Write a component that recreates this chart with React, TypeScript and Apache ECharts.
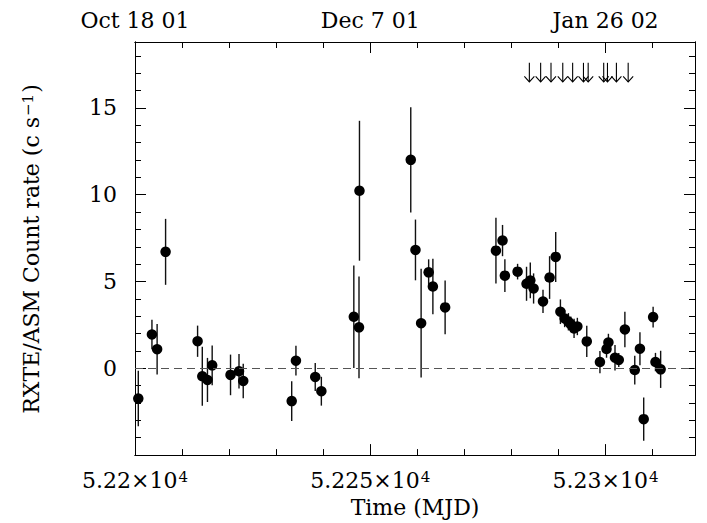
import React, { useEffect, useRef } from "react";
import * as echarts from "echarts";

// ---- data ----
const MJD = [
  52200.7, 52203.6, 52204.7, 52206.5, 52213.3, 52214.3, 52215.4, 52216.4, 52220.3, 52222.1,
  52223.0, 52233.3, 52234.2, 52238.3, 52239.6, 52246.5, 52247.6, 52247.7, 52258.6, 52259.6,
  52260.8, 52262.4, 52263.3, 52265.9, 52276.7, 52278.1, 52278.6, 52281.3, 52283.2, 52284.0,
  52284.7, 52286.7, 52288.1, 52289.4, 52290.4, 52291.3, 52292.1, 52292.6, 52293.3, 52294.0,
  52296.0, 52298.8, 52300.2, 52300.6, 52302.0, 52302.8, 52304.1, 52306.2, 52307.3, 52308.1,
  52310.1, 52310.6, 52311.7,
];
const RATE = [
  -1.74, 1.95, 1.1, 6.71, 1.56, -0.46, -0.67, 0.17, -0.38, -0.17,
  -0.73, -1.89, 0.44, -0.5, -1.32, 2.97, 2.36, 10.23, 12.01, 6.82,
  2.6, 5.53, 4.71, 3.51, 6.78, 7.36, 5.34, 5.57, 4.87, 5.06,
  4.6, 3.85, 5.23, 6.42, 3.26, 2.87, 2.68, 2.53, 2.3, 2.41,
  1.55, 0.36, 1.11, 1.49, 0.61, 0.48, 2.24, -0.1, 1.13, -2.93,
  2.95, 0.36, -0.06,
];
const ERR = [
  1.6, 0.85, 1.45, 1.9, 0.9, 1.7, 1.27, 1.15, 1.17, 1.0,
  1.0, 1.15, 0.86, 0.8, 0.83, 2.95, 2.93, 4.03, 3.03, 1.75,
  3.13, 0.75, 1.6, 1.55, 1.9, 0.9, 0.95, 0.45, 0.98, 1.03,
  0.87, 0.67, 1.23, 1.44, 0.71, 0.5, 0.5, 0.45, 0.55, 0.5,
  0.9, 0.64, 0.5, 0.5, 0.74, 0.4, 1.02, 0.83, 0.95, 1.25,
  0.6, 0.53, 1.07,
];
// event markers (arrows) near the top
const ARROW_MJD = [
  52283.8, 52286.2, 52288.4, 52290.9, 52293.0, 52295.3, 52296.3, 52299.6, 52300.4, 52302.3, 52304.8,
];
const ARROW_TOP = 17.6;
const ARROW_TIP = 16.5;

// ---- axes ----
const X_MIN = 52200;
const X_MAX = 52319;
const Y_MIN = -5;
const Y_MAX = 18.8;
const X_MAJOR_TICKS = [52200, 52250, 52300];
const X_MANTISSA = ["5.22", "5.225", "5.23"];
const X_EXPONENT = "4";
const TOP_LABELS = ["Oct 18 01", "Dec 7 01", "Jan 26 02"];
const Y_LABELED = [0, 5, 10, 15];

const FONT = '"DejaVu Serif", serif';
const FS = 22;

export default function App() {
  const ref = useRef<HTMLDivElement>(null);
  useEffect(() => {
    if (!ref.current) return;
    const chart = echarts.init(ref.current, null, { renderer: "svg" });
    const black = "#000";

    const xBase = (position: string, interval: number, tickLen: number) => ({
      type: "value",
      position,
      min: X_MIN,
      max: X_MAX,
      interval,
      axisLine: { show: true, onZero: false, lineStyle: { color: black, width: 1 } },
      axisTick: { show: true, inside: true, length: tickLen, lineStyle: { color: black, width: 1 } },
      axisLabel: { show: false },
      splitLine: { show: false },
    });
    const yBase = (position: string, interval: number, tickLen: number) => ({
      type: "value",
      position,
      min: Y_MIN,
      max: Y_MAX,
      interval,
      axisLine: { show: true, onZero: false, lineStyle: { color: black, width: 1 } },
      axisTick: { show: true, inside: true, length: tickLen, lineStyle: { color: black, width: 1 } },
      axisLabel: { show: false },
      splitLine: { show: false },
    });

    const option: any = {
      animation: false,
      backgroundColor: "#fff",
      grid: { left: 135, right: 12, top: 42, bottom: 67, containLabel: false },
      xAxis: [
        xBase("bottom", 10, 6),
        {
          ...xBase("bottom", 50, 11),
          axisLabel: {
            show: true,
            margin: 14,
            formatter: (v: number) => {
              const i = X_MAJOR_TICKS.indexOf(v);
              return i >= 0 ? `{m|${X_MANTISSA[i]}×10}{e|${X_EXPONENT}}` : "";
            },
            rich: {
              m: { fontFamily: FONT, fontSize: FS, color: black },
              e: { fontFamily: FONT, fontSize: 15, color: black, verticalAlign: "top", padding: [0, 0, 4, 1] },
            },
          },
          name: "Time (MJD)",
          nameLocation: "middle",
          nameGap: 40,
          nameTextStyle: { fontFamily: FONT, fontSize: FS, color: black },
        },
        xBase("top", 10, 6),
        {
          ...xBase("top", 50, 11),
          axisLabel: {
            show: true,
            margin: 11,
            fontFamily: FONT,
            fontSize: FS,
            color: black,
            formatter: (v: number) => {
              const i = X_MAJOR_TICKS.indexOf(v);
              return i >= 0 ? TOP_LABELS[i] : "";
            },
          },
        },
      ],
      yAxis: [
        yBase("left", 1, 6),
        {
          ...yBase("left", 5, 11),
          axisLabel: {
            show: true,
            margin: 18,
            fontFamily: FONT,
            fontSize: FS,
            color: black,
            formatter: (v: number) => (Y_LABELED.indexOf(v) >= 0 ? String(v) : ""),
          },
        },
        yBase("right", 1, 6),
        yBase("right", 5, 11),
      ],
      graphic: [
        {
          type: "text",
          x: 31,
          y: 249,
          rotation: Math.PI / 2,
          style: {
            text: "{n|RXTE/ASM Count rate (c s}{s|−1}{n|)}",
            align: "center",
            verticalAlign: "middle",
            rich: {
              n: { fontFamily: FONT, fontSize: FS, fill: black },
              s: { fontFamily: FONT, fontSize: 15, fill: black, verticalAlign: "top", padding: [0, 1, 4, 1] },
            },
          },
        },
      ],
      series: [
        {
          type: "custom",
          xAxisIndex: 0,
          yAxisIndex: 0,
          data: MJD.map((m, i) => [m, RATE[i], ERR[i]]),
          encode: { x: 0, y: 1 },
          renderItem: (_p: any, api: any) => {
            const x = api.value(0);
            const y = api.value(1);
            const e = api.value(2);
            const a = api.coord([x, y + e]);
            const b = api.coord([x, y - e]);
            return {
              type: "line",
              shape: { x1: a[0], y1: a[1], x2: b[0], y2: b[1] },
              style: { stroke: "#111", lineWidth: 1.4 },
            };
          },
          z: 2,
        },
        {
          type: "scatter",
          xAxisIndex: 0,
          yAxisIndex: 0,
          data: MJD.map((m, i) => [m, RATE[i]]),
          symbol: "circle",
          symbolSize: 10.5,
          itemStyle: { color: black, opacity: 1 },
          z: 3,
          markLine: {
            silent: true,
            symbol: ["none", "none"],
            label: { show: false },
            lineStyle: { type: [8, 5], color: "#555", width: 1.2 },
            data: [{ yAxis: 0 }],
          },
        },
        {
          type: "custom",
          xAxisIndex: 0,
          yAxisIndex: 0,
          data: ARROW_MJD.map((m) => [m, ARROW_TOP]),
          encode: { x: 0, y: 1 },
          renderItem: (_p: any, api: any) => {
            const x = api.value(0);
            const t = api.coord([x, ARROW_TOP]);
            const b = api.coord([x, ARROW_TIP]);
            return {
              type: "group",
              children: [
                {
                  type: "line",
                  shape: { x1: t[0], y1: t[1], x2: b[0], y2: b[1] },
                  style: { stroke: black, lineWidth: 1.1 },
                },
                {
                  type: "polyline",
                  shape: { points: [[b[0] - 5, b[1] - 5.5], [b[0], b[1]], [b[0] + 5, b[1] - 5.5]] },
                  style: { stroke: black, fill: "none", lineWidth: 1.1 },
                },
              ],
            };
          },
          z: 3,
        },
      ],
    };
    chart.setOption(option);
    return () => chart.dispose();
  }, []);
  return (
    <div
      ref={ref}
      style={{ position: "fixed", left: 0, top: 0, width: 707, height: 523, background: "#fff" }}
    />
  );
}
